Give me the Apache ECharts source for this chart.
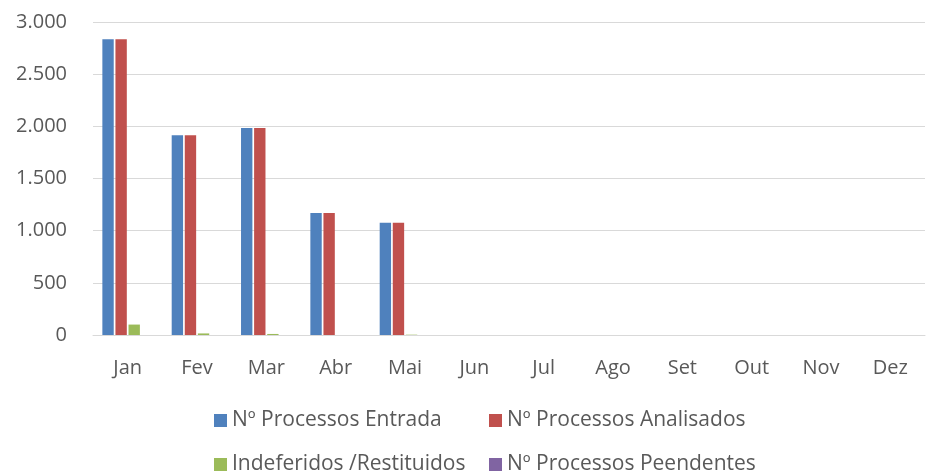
<!DOCTYPE html>
<html><head><meta charset="utf-8">
<script src="https://cdn.jsdelivr.net/npm/echarts@6/dist/echarts.min.js"></script>
<style>html,body{margin:0;padding:0;background:#fff}#c{width:928px;height:476px}</style>
</head><body><div id="c"></div>
<script>
const months = ['Jan','Fev','Mar','Abr','Mai','Jun','Jul','Ago','Set','Out','Nov','Dez'];
const entrada = [2835, 1915, 1985, 1170, 1075, 0, 0, 0, 0, 0, 0, 0];
const analisados = [2835, 1915, 1985, 1170, 1075, 0, 0, 0, 0, 0, 0, 0];
const indeferidos = [100, 15, 10, 0, 3, 0, 0, 0, 0, 0, 0, 0];
const pendentes = [0, 0, 0, 0, 0, 0, 0, 0, 0, 0, 0, 0];
const names = ['Nº Processos Entrada','Nº Processos Analisados','Indeferidos /Restituidos','Nº Processos Peendentes'];
const colors = ['#4f81bd','#c0504d','#9bbb59','#8064a2'];
const font = '"Open Sans", "Liberation Sans", sans-serif';
const chart = echarts.init(document.getElementById('c'));
const legendPos = [[209,405],[484,405],[209,449],[484,449]];
chart.setOption({
  animation:false,
  textStyle:{fontFamily:font},
  grid:{left:93,right:3,top:22,bottom:141},
  legend: names.map((n,i)=>({data:[n],left:legendPos[i][0],top:legendPos[i][1],itemWidth:13,itemHeight:13,itemGap:0,icon:'rect',
    textStyle:{fontSize:21,color:'#595959',fontFamily:font},selectedMode:false})),
  xAxis:{type:'category',data:months,axisTick:{show:false},axisLine:{lineStyle:{color:'#d9d9d9'}},
    axisLabel:{fontSize:20,color:'#595959',margin:23}},
  yAxis:{type:'value',min:0,max:3000,interval:500,splitLine:{lineStyle:{color:'#d9d9d9'}},
    axisLabel:{fontSize:20,color:'#595959',margin:26,formatter:v=>v.toLocaleString('de-DE')}},
  series:[entrada,analisados,indeferidos,pendentes].map((d,i)=>({name:names[i],type:'bar',data:d,
    itemStyle:{color:colors[i]},barGap:'15%',barCategoryGap:'27%'}))
});
</script></body></html>
